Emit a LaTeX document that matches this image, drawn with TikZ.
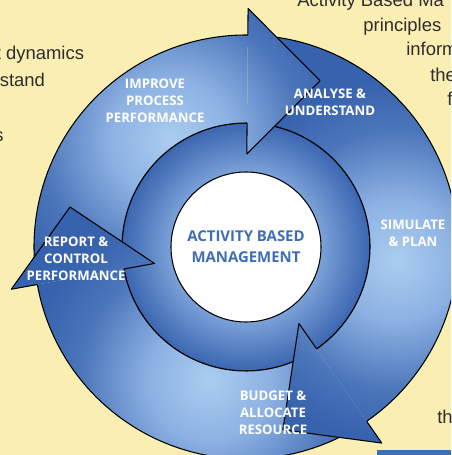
\documentclass[tikz,border=0pt]{standalone}
\usepackage{fontspec}
\setsansfont{Open Sans}
\newfontfamily\copyfont{Liberation Sans}

% -------------------------------------------------
% Palette
% -------------------------------------------------
\definecolor{paper}{HTML}{FAEEB3}      % page yellow
\definecolor{banddark}{HTML}{3762AD}   % band edges
\definecolor{bandshadow}{HTML}{4C76BA}
\definecolor{bandmid}{HTML}{8DB2E3}
\definecolor{bandlight}{HTML}{AACDEF}  % band highlight
\definecolor{ringdark}{HTML}{3B66B0}
\definecolor{ringlight}{HTML}{7BA1D8}
\definecolor{hubblue}{HTML}{3F6DB5}
\definecolor{copygray}{HTML}{2E2E2E}
\definecolor{barblue}{HTML}{3472B4}

% soft highlight spot, placed once per band segment
\pgfdeclareradialshading{spotshade}{\pgfpointorigin}{%
  color(0cm)=(bandlight); color(1.2cm)=(bandmid); color(2.6cm)=(bandshadow);
  color(3.6cm)=(banddark); color(7cm)=(banddark)}
% inner ring, darker towards its rim
\pgfdeclareradialshading{ringshade}{\pgfpointorigin}{%
  color(0cm)=(ringlight); color(1.5cm)=(ringlight); color(2.48cm)=(ringdark);
  color(2.6cm)=(ringdark)}

\begin{document}
\begin{tikzpicture}[
    line join=round,
    outline/.style={draw=black, line width=0.6pt},
    steplabel/.style={font=\sffamily\bfseries\fontsize{7.5}{9.6}\selectfont,
        align=center, text=white, inner sep=0pt},
    hublabel/.style={font=\sffamily\bfseries\fontsize{8.5}{11.9}\selectfont,
        align=center, text=hubblue, inner sep=0pt},
    copytext/.style={font=\copyfont\fontsize{10.5}{12}\selectfont,
        text=copygray, anchor=base west, inner sep=0pt}
]

% -------------------------------------------------
% Radii
% -------------------------------------------------
\def\rW{1.50}   % hub
\def\rI{2.48}   % inner ring
\def\rO{4.24}   % outer band
\def\rHi{1.86}  % arrow heads, back corners
\def\rHo{4.77}

% -------------------------------------------------
% Page
% -------------------------------------------------
\useasboundingbox (-4.92,-4.16) rectangle (4.10,4.94);
\clip (-4.92,-4.16) rectangle (4.10,4.94);
\fill[paper] (-4.92,-4.16) rectangle (4.10,4.94);
\fill[barblue] (2.62,-4.16) rectangle (4.10,-4.06);

% running text around the figure
\foreach \x/\y/\txt [count=\i] in {
    -5.01/3.74/t dynamics, -4.93/3.20/stand, -5.04/2.11/s,
    1.02/4.81/Activity Based Ma, 2.34/4.31/principles,
    3.20/3.82/inform, 3.68/3.30/the, 4.02/2.82/f, 3.82/-3.52/th}
    \node[copytext] (copy\i) at (\x,\y) {\txt};

% -------------------------------------------------
% Inner ring and hub
% -------------------------------------------------
\begin{scope}
    \clip (0,0) circle (\rI);
    \pgftext{\pgfuseshading{ringshade}}
\end{scope}
\draw[outline] (0,0) circle (\rI);
\draw[outline, fill=white] (0,0) circle (\rW);

% -------------------------------------------------
% Outer band, three segments (clockwise)
% start / end angle / highlight angle / highlight radius
% -------------------------------------------------
\foreach \a/\b/\ha/\hr in {186/89.5/125/2.62, 85.5/-55.3/-5/3.02,
                           -59.3/-169.8/-105/2.76} {
    \begin{scope}
        \clip (\a:\rO) arc[start angle=\a, end angle=\b, radius=\rO]
            -- (\b:\rI) arc[start angle=\b, end angle=\a, radius=\rI] -- cycle;
        \pgftext[at={\pgfpointpolar{\ha}{\hr cm}}]{\pgfuseshading{spotshade}}
    \end{scope}
    \draw[outline] (\a:\rO) arc[start angle=\a, end angle=\b, radius=\rO];
    \draw[outline] (\a:\rI) arc[start angle=\a, end angle=\b, radius=\rI];
}

% arrow heads: back angle / tip angle / tip radius / highlight of own band
\foreach \b/\t/\rt/\ha/\hr in {89.5/66/3.64/125/2.62, -55.3/-78.6/3.73/-5/3.02,
                               190.2/167.2/3.61/-105/2.76} {
    \begin{scope}
        \clip (\b:\rHi) -- (\t:\rt) -- (\b:\rHo) -- cycle;
        \pgftext[at={\pgfpointpolar{\ha}{\hr cm}}]{\pgfuseshading{spotshade}}
    \end{scope}
    \draw[outline] (\b:\rO) -- (\b:\rHo) -- (\t:\rt) -- (\b:\rHi) -- (\b:\rI);
}

% -------------------------------------------------
% Labels
% -------------------------------------------------
\node[steplabel] (improve)  at (-1.82,2.92)  {IMPROVE\\PROCESS\\PERFORMANCE};
\node[steplabel] (analyse)  at (1.68,2.90)   {ANALYSE \&\\UNDERSTAND};
\node[steplabel] (simulate) at (3.34,0.28)   {SIMULATE\\\& PLAN};
\node[steplabel] (report)   at (-3.40,-0.24) {REPORT \&\\CONTROL\\PERFORMANCE};
\node[steplabel] (budget)   at (0.54,-3.32)  {BUDGET \&\\ALLOCATE\\RESOURCE};
\node[hublabel]  (hub)      at (0,0)         {ACTIVITY BASED\\MANAGEMENT};

\end{tikzpicture}
\end{document}
